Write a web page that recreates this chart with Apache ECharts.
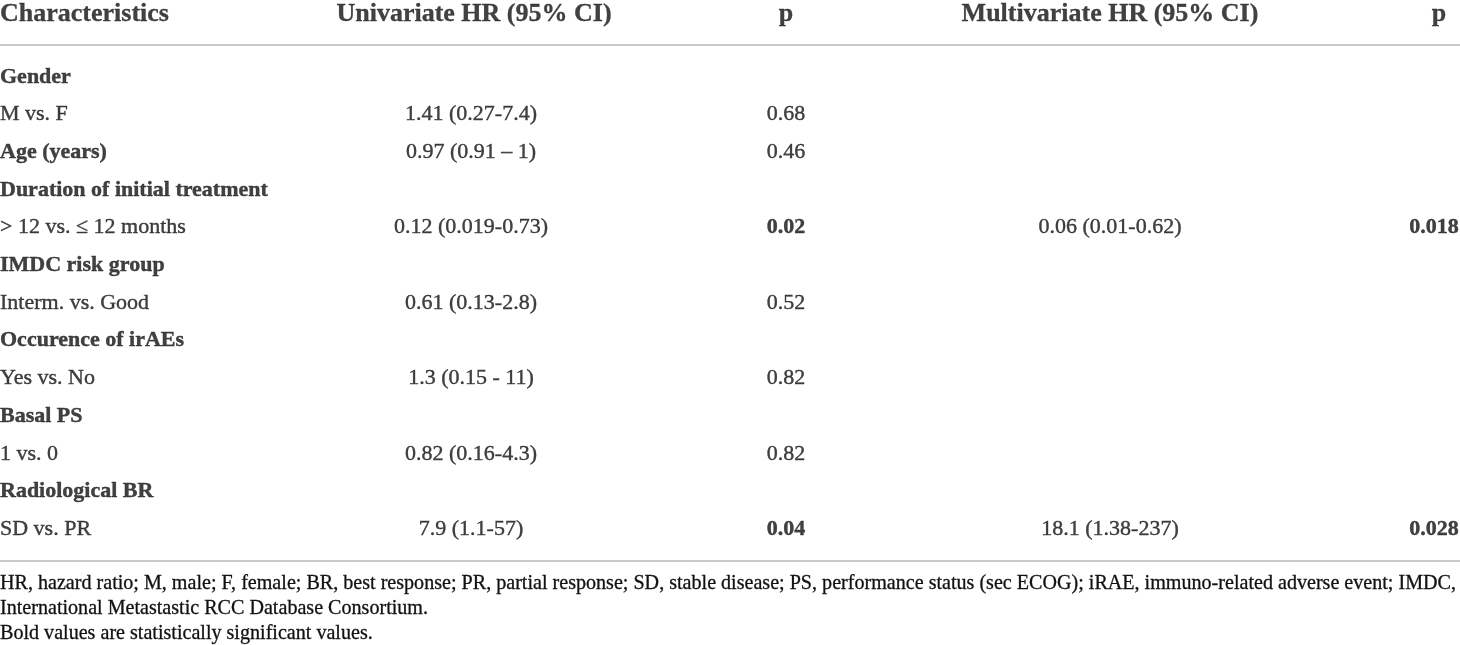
<!DOCTYPE html>
<html lang="en">
<head>
    <meta charset="utf-8">
    <title>Cox regression</title>
    <script src="https://cdn.jsdelivr.net/npm/echarts@6/dist/echarts.min.js"></script>
    <style>
        html, body { margin: 0; padding: 0; background: #fff; }
        #main { width: 1460px; height: 645px; }
    </style>
</head>
<body>
    <div id="main"></div>
    <script>
        // table content
        var headers = ['Characteristics', 'Univariate HR (95% CI)', 'p', 'Multivariate HR (95% CI)', 'p'];
        var rowLabels = ['Gender', 'M vs. F', 'Age (years)', 'Duration of initial treatment', '> 12 vs. \u2264 12 months',
            'IMDC risk group', 'Interm. vs. Good', 'Occurence of irAEs', 'Yes vs. No', 'Basal PS', '1 vs. 0',
            'Radiological BR', 'SD vs. PR'];
        var boldRows = ['Gender', 'Age (years)', 'Duration of initial treatment', 'IMDC risk group',
            'Occurence of irAEs', 'Basal PS', 'Radiological BR'];
        var uniHR = ['', '1.41 (0.27-7.4)', '0.97 (0.91 \u2013 1)', '', '0.12 (0.019-0.73)', '', '0.61 (0.13-2.8)',
            '', '1.3 (0.15 - 11)', '', '0.82 (0.16-4.3)', '', '7.9 (1.1-57)'];
        var uniP = ['', '0.68', '0.46', '', '0.02', '', '0.52', '', '0.82', '', '0.82', '', '0.04'];
        var multiHR = ['', '', '', '', '0.06 (0.01-0.62)', '', '', '', '', '', '', '', '18.1 (1.38-237)'];
        var multiP = ['', '', '', '', '0.018', '', '', '', '', '', '', '', '0.028'];
        var footNote = 'HR, hazard ratio; M, male; F, female; BR, best response; PR, partial response; SD, stable disease; PS, performance status (sec ECOG); iRAE, immuno-related adverse event; IMDC,\nInternational Metastastic RCC Database Consortium.\nBold values are statistically significant values.';

        // layout
        var headX = [0, 474, 786, 1110, 1439];
        var colX = [0, 471, 786, 1110, 1434];
        var font = 'Liberation Serif';
        var ink = '#111';
        var rule = '#c9c9c9';

        var columns = [rowLabels, uniHR, uniP, multiHR, multiP];

        function isBold(col, i) {
            if (col === 0) return boldRows.indexOf(rowLabels[i]) >= 0;
            if (col === 2 || col === 4) return columns[col][i] !== '' && parseFloat(columns[col][i]) < 0.05;
            return false;
        }

        var series = [];
        // header cells
        series.push({
            type: 'scatter',
            xAxisIndex: 0,
            yAxisIndex: 0,
            symbolSize: 0,
            silent: true,
            data: headers.map(function (h, c) {
                return {
                    value: [headX[c], 0],
                    label: {
                        position: c === 0 ? 'right' : 'inside',
                        align: c === 0 ? 'left' : 'center'
                    }
                };
            }),
            label: {
                show: true,
                distance: 0,
                offset: [0, -8],
                fontFamily: font,
                fontSize: 26,
                fontWeight: 'bold',
                color: ink,
                textBorderColor: ink,
                textBorderWidth: 0.3,
                formatter: function (p) { return headers[p.dataIndex]; }
            }
        });
        // body cells, one series per column
        columns.forEach(function (arr, c) {
            series.push({
                type: 'scatter',
                xAxisIndex: 1,
                yAxisIndex: 1,
                symbolSize: 0,
                silent: true,
                data: arr.map(function (t, i) {
                    return {
                        value: [colX[c], i],
                        label: { fontWeight: isBold(c, i) ? 'bold' : 'normal' }
                    };
                }),
                label: {
                    show: true,
                    position: c === 0 ? 'right' : 'inside',
                    align: c === 0 ? 'left' : 'center',
                    distance: 0,
                    fontFamily: font,
                    fontSize: 22,
                    color: ink,
                    textBorderColor: ink,
                    textBorderWidth: 0.4,
                    formatter: function (p) { return arr[p.dataIndex]; }
                }
            });
        });

        var option = {
            backgroundColor: '#fff',
            animation: false,
            title: {
                text: footNote,
                left: 0,
                top: 571,
                padding: 0,
                textStyle: {
                    fontFamily: font,
                    fontSize: 20.1,
                    fontWeight: 'normal',
                    lineHeight: 25,
                    color: ink,
                    textBorderColor: ink,
                    textBorderWidth: 0.3
                }
            },
            grid: [
                { left: 0, right: 0, top: 0, height: 45 },
                { left: 0, right: 0, top: 58, height: 490 }
            ],
            xAxis: [
                {
                    gridIndex: 0, type: 'value', min: 0, max: 1460,
                    axisLine: { show: true, onZero: false, lineStyle: { color: rule, width: 2 } },
                    axisTick: { show: false }, axisLabel: { show: false }, splitLine: { show: false }
                },
                {
                    gridIndex: 1, type: 'value', min: 0, max: 1460, offset: 13,
                    axisLine: { show: true, onZero: false, lineStyle: { color: rule, width: 2 } },
                    axisTick: { show: false }, axisLabel: { show: false }, splitLine: { show: false }
                }
            ],
            yAxis: [
                { gridIndex: 0, type: 'category', data: ['header'], show: false },
                { gridIndex: 1, type: 'category', data: rowLabels, inverse: true, show: false }
            ],
            series: series
        };

        var chart = echarts.init(document.getElementById('main'));
        chart.setOption(option);
    </script>
</body>
</html>
